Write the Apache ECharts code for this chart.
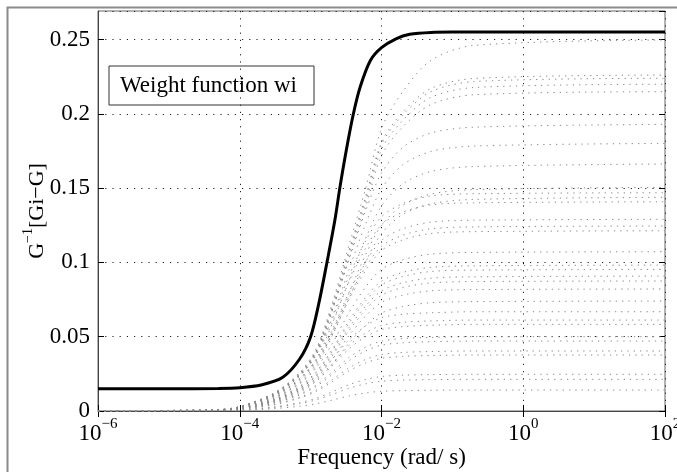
<!DOCTYPE html>
<html>
<head>
<meta charset="utf-8">
<script src="https://cdn.jsdelivr.net/npm/echarts@6/dist/echarts.min.js"></script>
<style>
html,body{margin:0;padding:0;background:#fff;}
#chart{width:677px;height:472px;}
</style>
</head>
<body>
<div id="chart"></div>
<script>
// ---- data ----
const xTickExponents = [-6, -4, -2, 0, 2];
const yTicks = [0, 0.05, 0.1, 0.15, 0.2, 0.25];

// thick black curve: weight function wi
const weightFreq = [1e-6, 1e-5, 5e-5, 1e-4, 2e-4, 4e-4, 7e-4, 1e-3, 1.3e-3, 1.7e-3, 2.2e-3, 2.6e-3, 3.2e-3, 4e-3, 5e-3, 7e-3, 1e-2, 1.6e-2, 2.5e-2, 5e-2, 1e-1, 1e2];
const weightVal  = [0.015, 0.015, 0.0152, 0.0157, 0.0175, 0.0225, 0.035, 0.05, 0.072, 0.1, 0.1285, 0.151, 0.176, 0.1997, 0.218, 0.236, 0.2445, 0.2505, 0.2535, 0.2548, 0.255, 0.255];

// dotted grey curves (individual Gi), sampled at these frequencies
const grayFreq = [1e-6, 5e-5, 1e-4, 3e-4, 7e-4, 1.2e-3, 2e-3, 3.5e-3, 6e-3, 1e-2, 2e-2, 5e-2, 2e-1, 1e2];
const grayCurves = [
  [0, 0.001, 0.003, 0.012, 0.026, 0.042, 0.072, 0.112, 0.150, 0.190, 0.215, 0.236, 0.246, 0.2497],
  [0, 0.0009, 0.0029, 0.0113, 0.0249, 0.0407, 0.0701, 0.1085, 0.1447, 0.1809, 0.2012, 0.2171, 0.2238, 0.2261],
  [0, 0.0009, 0.0029, 0.0112, 0.0246, 0.0403, 0.0694, 0.1075, 0.1433, 0.1791, 0.1993, 0.2149, 0.2217, 0.2239],
  [0, 0.0009, 0.0029, 0.011, 0.0242, 0.0396, 0.0682, 0.1056, 0.1407, 0.1759, 0.1957, 0.2111, 0.2177, 0.2199],
  [0, 0.0009, 0.0028, 0.0107, 0.0236, 0.0387, 0.0666, 0.1032, 0.1375, 0.1719, 0.1913, 0.2063, 0.2128, 0.2149],
  [0, 0.001, 0.0029, 0.0116, 0.0251, 0.0405, 0.0675, 0.1022, 0.135, 0.1601, 0.1775, 0.1871, 0.191, 0.1929],
  [0, 0.0009, 0.0027, 0.0108, 0.0234, 0.0378, 0.063, 0.0955, 0.1261, 0.1495, 0.1657, 0.1747, 0.1783, 0.1801],
  [0, 0.0008, 0.0025, 0.01, 0.0216, 0.0349, 0.0582, 0.0881, 0.1163, 0.1379, 0.1529, 0.1612, 0.1645, 0.1662],
  [0, 0.0008, 0.0023, 0.009, 0.0196, 0.0316, 0.0527, 0.0798, 0.1054, 0.1249, 0.1385, 0.146, 0.149, 0.1505],
  [0, 0.0007, 0.0029, 0.0118, 0.025, 0.0397, 0.0617, 0.0911, 0.1146, 0.1307, 0.1396, 0.1447, 0.1462, 0.1469],
  [0, 0.0007, 0.0022, 0.0086, 0.0187, 0.0302, 0.0503, 0.0762, 0.1007, 0.1194, 0.1323, 0.1395, 0.1424, 0.1438],
  [0, 0.0007, 0.0028, 0.0113, 0.0239, 0.038, 0.0591, 0.0873, 0.1098, 0.1253, 0.1338, 0.1387, 0.1401, 0.1408],
  [0, 0.0008, 0.0026, 0.0103, 0.0219, 0.0348, 0.0542, 0.08, 0.1006, 0.1148, 0.1226, 0.1271, 0.1284, 0.129],
  [0, 0.0007, 0.0025, 0.01, 0.0212, 0.0336, 0.0523, 0.0772, 0.0971, 0.1108, 0.1183, 0.1226, 0.1239, 0.1245],
  [0, 0.0007, 0.0024, 0.0097, 0.0206, 0.0328, 0.0509, 0.0752, 0.0946, 0.108, 0.1152, 0.1195, 0.1207, 0.1213],
  [0, 0.0006, 0.0021, 0.0086, 0.0182, 0.0289, 0.045, 0.0665, 0.0836, 0.0954, 0.1018, 0.1056, 0.1067, 0.1072],
  [0, 0.0006, 0.002, 0.0079, 0.0167, 0.0265, 0.0412, 0.0609, 0.0766, 0.0874, 0.0933, 0.0967, 0.0977, 0.0982],
  [0, 0.0006, 0.0019, 0.0076, 0.0162, 0.0257, 0.04, 0.0591, 0.0743, 0.0848, 0.0905, 0.0939, 0.0948, 0.0953],
  [0, 0.0005, 0.0018, 0.0073, 0.0154, 0.0245, 0.0381, 0.0563, 0.0708, 0.0808, 0.0863, 0.0894, 0.0903, 0.0908],
  [0, 0.0005, 0.0018, 0.007, 0.0149, 0.0236, 0.0368, 0.0543, 0.0683, 0.0779, 0.0831, 0.0862, 0.0871, 0.0875],
  [0, 0.0005, 0.0016, 0.0066, 0.014, 0.0222, 0.0345, 0.0509, 0.064, 0.0731, 0.078, 0.0809, 0.0817, 0.0821],
  [0, 0.0004, 0.0015, 0.0059, 0.0126, 0.02, 0.0311, 0.0459, 0.0577, 0.0659, 0.0703, 0.0729, 0.0736, 0.074],
  [0, 0.0005, 0.002, 0.0073, 0.0154, 0.0234, 0.0347, 0.0481, 0.0574, 0.0628, 0.0651, 0.0661, 0.0668, 0.0668],
  [0, 0.0005, 0.0018, 0.0067, 0.0141, 0.0214, 0.0318, 0.0441, 0.0526, 0.0575, 0.0597, 0.0606, 0.0612, 0.0612],
  [0, 0.0005, 0.0017, 0.0064, 0.0134, 0.0204, 0.0303, 0.042, 0.0501, 0.0548, 0.0568, 0.0577, 0.0583, 0.0583],
  [0, 0.0004, 0.0015, 0.0055, 0.0115, 0.0175, 0.026, 0.036, 0.043, 0.047, 0.0488, 0.0495, 0.05, 0.05],
  [0, 0.0004, 0.0014, 0.0052, 0.0108, 0.0165, 0.0245, 0.0339, 0.0405, 0.0443, 0.0459, 0.0466, 0.0471, 0.0471],
  [0, 0.0003, 0.0012, 0.0044, 0.0093, 0.0141, 0.021, 0.0291, 0.0347, 0.038, 0.0394, 0.04, 0.0404, 0.0404],
  [0, 0.0003, 0.0011, 0.0041, 0.0087, 0.0132, 0.0196, 0.0271, 0.0324, 0.0354, 0.0368, 0.0373, 0.0377, 0.0377],
  [0, 0.0002, 0.0007, 0.0027, 0.0057, 0.0086, 0.0128, 0.0178, 0.0212, 0.0232, 0.0241, 0.0245, 0.0247, 0.0247],
  [0, 0.0002, 0.0006, 0.0023, 0.0049, 0.0075, 0.0111, 0.0153, 0.0183, 0.02, 0.0208, 0.0211, 0.0213, 0.0213],
  [0, 0.0001, 0.0004, 0.0016, 0.0032, 0.0049, 0.0073, 0.0102, 0.0121, 0.0133, 0.0137, 0.014, 0.0141, 0.0141]
];

const legendText = 'Weight function wi';
const xName = 'Frequency (rad/ s)';

// ---- chart ----
const FONT = '"Liberation Serif", "DejaVu Serif", serif';
const chart = echarts.init(document.getElementById('chart'), null, {renderer: 'canvas'});

const series = [];
grayCurves.forEach((vals, k) => {
  series.push({
    type: 'line',
    name: 'Gi ' + (k + 1),
    data: grayFreq.map((f, i) => [f, vals[i]]),
    smooth: 0.3,
    symbol: 'none',
    silent: true,
    z: 3,
    lineStyle: {color: '#8a8a8a', width: 1, type: [1.3, 5]}
  });
});
series.push({
  type: 'line',
  name: legendText,
  data: weightFreq.map((f, i) => [f, weightVal[i]]),
  smooth: 0.3,
  symbol: 'none',
  z: 5,
  lineStyle: {color: '#000', width: 3}
});

const supLabel = v => {
  const e = Math.round(Math.log10(v));
  if (xTickExponents.indexOf(e) < 0) return '';
  return '{b|10}{s|' + (e < 0 ? '\u2212' : '') + Math.abs(e) + '}';
};
const gridDash = {color: '#222', width: 1, type: [1.2, 6]};

chart.setOption({
  animation: false,
  backgroundColor: '#fff',
  grid: {left: 98, right: 12, top: 11, bottom: 61, outerBoundsMode: 'none', containLabel: false,
         show: true, borderColor: '#666', borderWidth: 1, backgroundColor: 'transparent'},
  legend: {
    data: [{name: legendText, icon: 'none'}],
    left: 109, top: 66,
    itemWidth: 0, itemHeight: 0,
    padding: [8, 17, 8, 6],
    borderColor: '#333', borderWidth: 1, borderRadius: 0,
    backgroundColor: 'transparent',
    selectedMode: false,
    textStyle: {fontFamily: FONT, fontSize: 23, color: '#000'}
  },
  graphic: [{
    type: 'rect', left: 5, top: 5, silent: true, z: 100,
    shape: {width: 760, height: 560},
    style: {fill: 'none', stroke: '#8a8a8a', lineWidth: 2}
  }],
  xAxis: [{
    type: 'log', logBase: 10, min: 1e-6, max: 1e2, interval: 2,
    name: xName, nameLocation: 'middle', nameGap: 35, nameMoveOverlap: false,
    nameTextStyle: {fontFamily: FONT, fontSize: 23, color: '#000'},
    axisLine: {show: true, lineStyle: {color: '#444', width: 1}},
    axisTick: {show: true, inside: true, length: 6, lineStyle: {color: '#000'}},
    minorTick: {show: false},
    axisLabel: {
      margin: 6, formatter: supLabel, hideOverlap: false,
      rich: {
        b: {fontFamily: FONT, fontSize: 23, color: '#000', lineHeight: 28, verticalAlign: 'bottom'},
        s: {fontFamily: FONT, fontSize: 15, color: '#000', lineHeight: 15, verticalAlign: 'top'}
      }
    },
    splitLine: {show: true, lineStyle: gridDash}
  }, {
    type: 'log', logBase: 10, min: 1e-6, max: 1e2, interval: 2, position: 'top',
    axisLine: {show: false}, axisLabel: {show: false}, splitLine: {show: false},
    axisTick: {show: true, inside: true, length: 6, lineStyle: {color: '#000'}}
  }],
  yAxis: [{
    type: 'value', min: 0, max: 0.2692, interval: 0.05,
    name: '{g|G}{s|\u22121}{g|[Gi\u2212G]}', nameLocation: 'middle', nameGap: 50, nameMoveOverlap: false,
    nameTextStyle: {
      rich: {
        g: {fontFamily: FONT, fontSize: 22, color: '#000', lineHeight: 27, verticalAlign: 'bottom'},
        s: {fontFamily: FONT, fontSize: 14, color: '#000', lineHeight: 14, verticalAlign: 'top'}
      }
    },
    axisLine: {show: true, lineStyle: {color: '#444', width: 1}},
    axisTick: {show: true, inside: true, length: 6, lineStyle: {color: '#000'}},
    axisLabel: {
      margin: 8, showMaxLabel: false, fontFamily: FONT, fontSize: 23, color: '#000',
      formatter: v => (yTicks.some(t => Math.abs(t - v) < 1e-9) ? String(+v.toFixed(2)) : '')
    },
    splitLine: {show: true, lineStyle: gridDash}
  }, {
    type: 'value', min: 0, max: 0.2692, interval: 0.05, position: 'right',
    axisLine: {show: false}, axisLabel: {show: false}, splitLine: {show: false},
    axisTick: {show: true, inside: true, length: 6, lineStyle: {color: '#000'}}
  }],
  series: series
});
</script>
</body>
</html>
